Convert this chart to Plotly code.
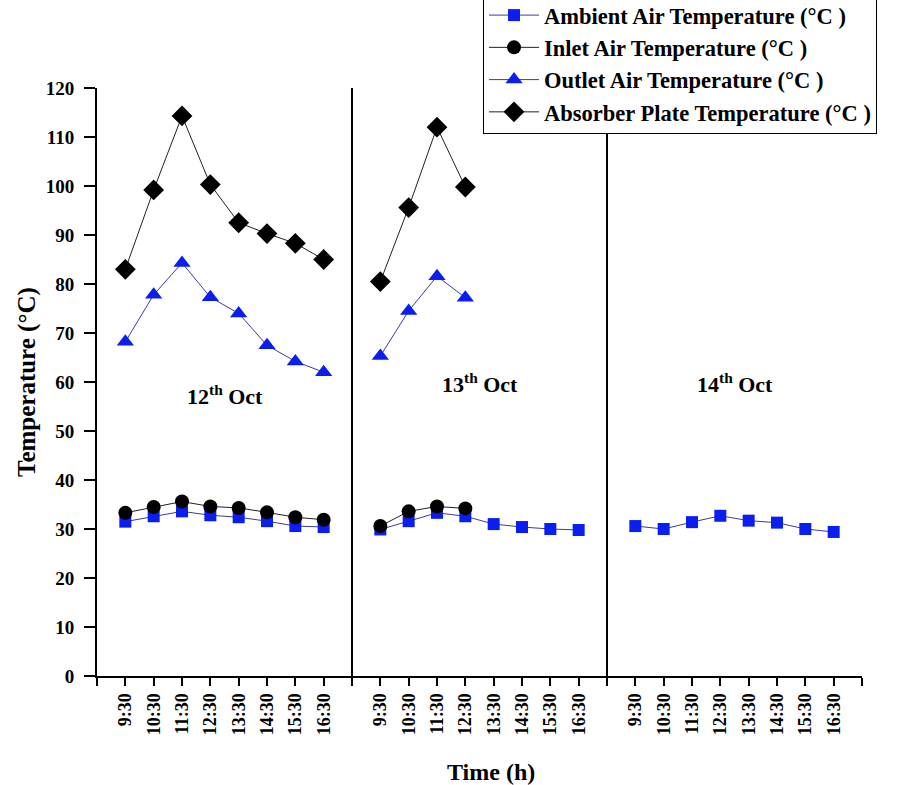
import plotly.graph_objects as go

tick_labels = ["9:30", "10:30", "11:30", "12:30", "13:30", "14:30", "15:30", "16:30"]
days = ["12<sup>th</sup> Oct", "13<sup>th</sup> Oct", "14<sup>th</sup> Oct"]

ambient_d1 = [31.5, 32.6, 33.6, 32.8, 32.4, 31.6, 30.6, 30.4]
ambient_d2 = [29.9, 31.6, 33.3, 32.6, 31.0, 30.4, 30.0, 29.8]
ambient_d3 = [30.6, 30.0, 31.4, 32.7, 31.7, 31.3, 30.0, 29.4]
inlet_d1 = [33.3, 34.5, 35.6, 34.6, 34.3, 33.4, 32.4, 31.9]
inlet_d2 = [30.6, 33.6, 34.6, 34.2]
outlet_d1 = [68.2, 77.8, 84.3, 77.3, 74.0, 67.5, 64.2, 62.0]
outlet_d2 = [65.3, 74.5, 81.6, 77.2]
absorber_d1 = [83.0, 99.2, 114.3, 100.3, 92.5, 90.3, 88.3, 85.0]
absorber_d2 = [80.5, 95.6, 112.0, 99.8]

# x layout: 8 slots per day with a gap slot between days
day_starts = [1, 10, 19]
def xs(day, n):
    return [day_starts[day] + i for i in range(n)]

def nan_join(parts):
    x, y = [], []
    for i, (d, vals) in enumerate(parts):
        if i > 0:
            x.append(None); y.append(None)
        x += xs(d, len(vals)); y += vals
    return x, y

serif = "Liberation Serif"
blue = "#0a1ef0"
blue_line = "#3c3c9c"

fig = go.Figure()
x, y = nan_join([(0, ambient_d1), (1, ambient_d2), (2, ambient_d3)])
fig.add_trace(go.Scatter(x=x, y=y, mode="lines+markers", name="Ambient Air Temperature (°C )",
                         line=dict(color=blue_line, width=1),
                         marker=dict(symbol="square", size=12, color=blue, line=dict(width=0))))
x, y = nan_join([(0, inlet_d1), (1, inlet_d2)])
fig.add_trace(go.Scatter(x=x, y=y, mode="lines+markers", name="Inlet Air Temperature (°C )",
                         line=dict(color="#222222", width=1),
                         marker=dict(symbol="circle", size=14, color="black", line=dict(width=0))))
x, y = nan_join([(0, outlet_d1), (1, outlet_d2)])
fig.add_trace(go.Scatter(x=x, y=y, mode="lines+markers", name="Outlet Air Temperature (°C )",
                         line=dict(color=blue_line, width=1),
                         marker=dict(symbol="triangle-up", size=15, color=blue, line=dict(width=0))))
x, y = nan_join([(0, absorber_d1), (1, absorber_d2)])
fig.add_trace(go.Scatter(x=x, y=y, mode="lines+markers", name="Absorber Plate Temperature (°C )",
                         line=dict(color="#222222", width=1),
                         marker=dict(symbol="diamond", size=16, color="black", line=dict(width=0))))

tickvals = list(range(0, 28))
ticktext = []
for v in tickvals:
    found = ""
    for d in range(3):
        if day_starts[d] <= v < day_starts[d] + 8:
            found = tick_labels[v - day_starts[d]]
    ticktext.append(found)

for sep in [9, 18]:
    fig.add_shape(type="line", x0=sep, x1=sep, y0=0, y1=120, xref="x", yref="y",
                  line=dict(color="black", width=2), layer="below")

label_x = [4.5, 13.5, 22.5]
label_y = [57.3, 59.7, 59.7]
for i in range(3):
    fig.add_annotation(x=label_x[i], y=label_y[i], text=days[i], showarrow=False,
                       font=dict(family=serif, size=22, color="black", weight="bold"))

fig.add_annotation(xref="paper", yref="paper", x=0.515, y=-0.163, text="Time (h)", showarrow=False,
                   xanchor="center", yanchor="middle",
                   font=dict(family=serif, size=24, color="black", weight="bold"))
fig.add_annotation(xref="paper", yref="paper", x=-0.0915, y=0.5, text="Temperature (°C)", showarrow=False,
                   xanchor="center", yanchor="middle", textangle=-90,
                   font=dict(family=serif, size=25, color="black", weight="bold"))

fig.update_layout(
    width=905, height=785,
    margin=dict(l=97, r=43, t=88, b=109, autoexpand=False),
    plot_bgcolor="white", paper_bgcolor="white",
    font=dict(family=serif, color="black"),
    showlegend=True,
    legend=dict(x=0.5046, y=0.9218, xanchor="left", yanchor="bottom",
                bgcolor="white", bordercolor="black", borderwidth=1,
                font=dict(family=serif, size=22.5, color="black", weight="bold"),
                tracegroupgap=0, itemwidth=50),
    xaxis=dict(range=[0, 27], tickmode="array", tickvals=tickvals, ticktext=ticktext,
               tickangle=-90, ticks="outside", ticklen=8, tickwidth=2, tickcolor="black",
               showline=True, linecolor="black", linewidth=2, showgrid=False, zeroline=False,
               tickfont=dict(family=serif, size=18, color="black", weight="bold")),
    yaxis=dict(range=[0, 120], tickvals=list(range(0, 121, 10)),
               ticks="outside", ticklen=11, tickwidth=2, tickcolor="black",
               showline=True, linecolor="black", linewidth=2, showgrid=False, zeroline=False,
               ticklabelstandoff=6,
               tickfont=dict(family=serif, size=19, color="black", weight="bold")),
)

fig.write_html("out.html")
